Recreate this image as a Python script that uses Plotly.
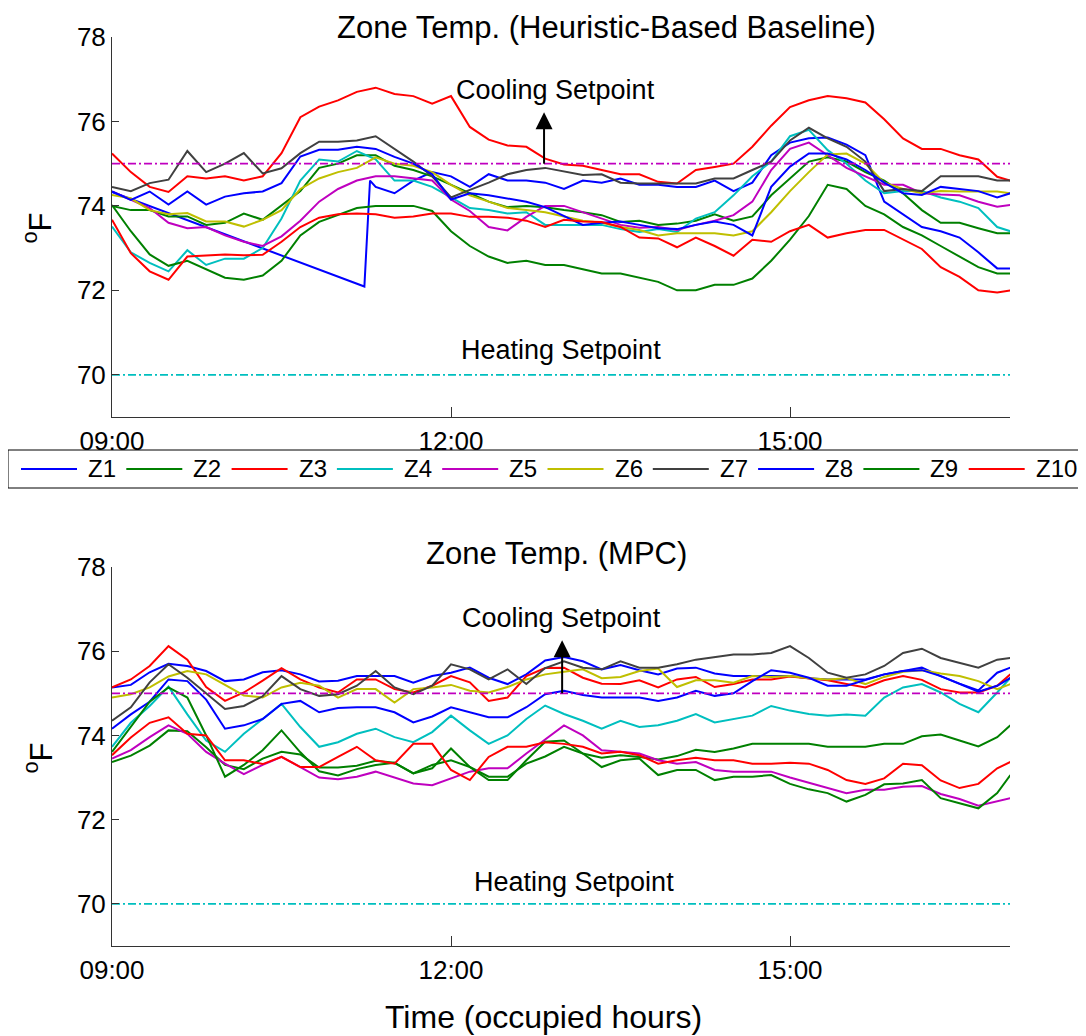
import plotly.graph_objects as go
from datetime import datetime, timedelta

# ---------------- data ----------------
BASE = datetime(2015, 7, 1, 9, 0)
END_MIN = 476.8
T_MIN = list(range(0, 471, 10)) + [477]                 # minutes after 09:00
T_Z1_TOP = [0, 134, 137] + list(range(140, 471, 10)) + [477]

ZONES = ["Z1", "Z2", "Z3", "Z4", "Z5", "Z6", "Z7", "Z8", "Z9", "Z10"]
COLORS = ["#0000FF", "#008000", "#FF0000", "#00BFBF", "#BF00BF",
          "#BFBF00", "#404040", "#0000FF", "#008000", "#FF0000"]

COOLING_SP = 75
HEATING_SP = 70

# Heuristic-based baseline (top)
TOP_Z1 = [74.33, 72.09, 74.6,
          74.45, 74.3, 74.6, 74.8, 74.7, 74.45, 74.75, 74.6, 74.6, 74.55,
          74.4, 74.6, 74.55, 74.65, 74.5, 74.5, 74.45, 74.45, 74.6, 74.35,
          74.55, 75.2, 75.5, 75.6, 75.62, 75.45, 75.2, 74.1, 73.8, 73.5,
          73.4, 73.25, 72.9, 72.52, 72.52]
TOP_Z2 = [74.0, 73.9, 73.9, 73.75, 73.75, 73.55, 73.6, 73.82, 73.67, 74.0,
          74.35, 74.9, 75.0, 75.2, 75.2, 74.95, 74.85, 74.7, 74.5, 74.3,
          74.1, 73.97, 74.0, 73.97, 73.9, 73.85, 73.78, 73.62, 73.65, 73.55,
          73.58, 73.65, 73.8, 73.65, 73.75, 74.25, 74.65, 75.05, 75.15, 75.05,
          74.8, 74.6, 74.3, 73.9, 73.6, 73.6, 73.47, 73.35, 73.35]
TOP_Z3 = [75.24, 74.8, 74.45, 74.33, 74.7, 74.65, 74.7, 74.6, 74.7, 75.25,
          76.1, 76.35, 76.5, 76.7, 76.8, 76.65, 76.6, 76.42, 76.6, 75.87,
          75.57, 75.43, 75.4, 75.12, 74.98, 74.95, 74.85, 74.75, 74.75, 74.57,
          74.53, 74.85, 74.92, 75.0, 75.4, 75.9, 76.34, 76.5, 76.6, 76.55,
          76.45, 76.05, 75.6, 75.35, 75.35, 75.2, 75.1, 74.69, 74.6]
TOP_Z4 = [73.51, 72.9, 72.65, 72.45, 72.95, 72.6, 72.75, 72.75, 73.0, 73.7,
          74.6, 75.1, 75.05, 75.3, 75.1, 74.6, 74.6, 74.45, 74.2, 73.95,
          73.9, 73.82, 73.85, 73.55, 73.55, 73.55, 73.55, 73.45, 73.38, 73.45,
          73.38, 73.7, 73.85, 74.25, 74.7, 75.05, 75.65, 75.8, 75.32, 75.0,
          74.6, 74.3, 74.35, 74.35, 74.2, 74.1, 73.95, 73.5, 73.4]
TOP_Z5 = [74.34, 74.15, 73.95, 73.6, 73.47, 73.5, 73.3, 73.15, 73.05, 73.28,
          73.65, 74.1, 74.4, 74.6, 74.7, 74.7, 74.65, 74.6, 74.15, 73.88,
          73.5, 73.42, 73.74, 74.0, 74.0, 73.85, 73.7, 73.55, 73.48, 73.5,
          73.43, 73.55, 73.65, 73.78, 74.1, 74.85, 75.35, 75.5, 75.2, 74.9,
          74.7, 74.5, 74.5, 74.3, 74.27, 74.25, 74.1, 73.98, 74.02]
TOP_Z6 = [74.26, 74.18, 73.9, 73.8, 73.83, 73.63, 73.63, 73.51, 73.67, 73.9,
          74.4, 74.65, 74.8, 74.9, 75.15, 75.0, 74.95, 74.8, 74.5, 74.25,
          74.1, 73.95, 73.9, 73.85, 73.75, 73.65, 73.6, 73.5, 73.43, 73.3,
          73.35, 73.35, 73.35, 73.3, 73.4, 73.85, 74.35, 74.8, 75.22, 75.24,
          75.0, 74.55, 74.4, 74.3, 74.35, 74.34, 74.34, 74.34, 74.3]
TOP_Z7 = [74.45, 74.35, 74.54, 74.62, 75.3, 74.8, 75.0, 75.25, 74.77, 74.89,
          75.25, 75.52, 75.52, 75.55, 75.65, 75.35, 75.05, 74.7, 74.2, 74.38,
          74.55, 74.75, 74.85, 74.9, 74.82, 74.73, 74.75, 74.55, 74.53, 74.53,
          74.53, 74.53, 74.65, 74.65, 74.85, 75.05, 75.55, 75.85, 75.6, 75.4,
          75.05, 74.35, 74.4, 74.35, 74.7, 74.7, 74.7, 74.6, 74.6]
TOP_Z8 = [74.34, 74.14, 74.34, 74.03, 74.34, 74.03, 74.22, 74.3, 74.34, 74.54,
          75.17, 75.33, 75.33, 75.4, 75.35, 75.16, 75.0, 74.75, 74.15, 74.3,
          74.25, 74.17, 74.1, 73.97, 73.75, 73.55, 73.6, 73.63, 73.55, 73.47,
          73.45, 73.55, 73.63, 73.55, 73.3, 74.45, 74.93, 75.24, 75.24, 75.1,
          74.85, 74.55, 74.3, 74.26, 74.45, 74.4, 74.35, 74.2, 74.3]
TOP_Z9 = [74.02, 73.4, 72.85, 72.58, 72.7, 72.5, 72.3, 72.25, 72.35, 72.7,
          73.3, 73.62, 73.78, 73.95, 74.0, 74.0, 74.0, 73.88, 73.4, 73.05,
          72.8, 72.65, 72.7, 72.6, 72.6, 72.5, 72.4, 72.4, 72.3, 72.2,
          72.0, 72.0, 72.13, 72.13, 72.28, 72.7, 73.2, 73.76, 74.5, 74.4,
          74.0, 73.8, 73.5, 73.3, 73.05, 72.8, 72.55, 72.4, 72.4]
TOP_Z10 = [73.67, 72.88, 72.45, 72.25, 72.8, 72.83, 72.85, 72.83, 72.84, 73.15,
           73.5, 73.72, 73.8, 73.82, 73.8, 73.72, 73.75, 73.82, 73.82, 73.74,
           73.74, 73.72, 73.65, 73.5, 73.67, 73.63, 73.62, 73.5, 73.25, 73.23,
           73.02, 73.25, 73.05, 72.82, 73.2, 73.15, 73.4, 73.55, 73.25, 73.35,
           73.43, 73.43, 73.2, 72.98, 72.55, 72.32, 72.0, 71.95, 72.0]

# MPC (bottom)
BOT_Z1 = [75.14, 75.2, 75.5, 75.7, 75.65, 75.53, 75.29, 75.33, 75.5, 75.55,
          75.45, 75.28, 75.3, 75.41, 75.41, 75.41, 75.25, 75.41, 75.49, 75.61,
          75.37, 75.22, 75.45, 75.78, 75.86, 75.76, 75.57, 75.67, 75.55, 75.45,
          75.59, 75.61, 75.47, 75.41, 75.41, 75.41, 75.41, 75.36, 75.33, 75.33,
          75.33, 75.45, 75.53, 75.61, 75.41, 75.23, 75.07, 75.49, 75.61]
BOT_Z2 = [73.37, 73.52, 73.76, 74.12, 74.1, 73.72, 73.3, 73.2, 73.45, 73.61,
          73.55, 73.24, 73.24, 73.28, 73.4, 73.35, 73.1, 73.3, 73.41, 73.25,
          73.02, 73.02, 73.33, 73.5, 73.73, 73.57, 73.47, 73.53, 73.49, 73.43,
          73.51, 73.66, 73.61, 73.69, 73.8, 73.8, 73.8, 73.8, 73.73, 73.73,
          73.73, 73.8, 73.8, 73.98, 74.02, 73.88, 73.74, 73.96, 74.24]
BOT_Z3 = [75.14, 75.33, 75.65, 76.12, 75.8, 75.15, 74.82, 75.02, 75.3, 75.6,
          75.33, 75.14, 75.02, 75.33, 75.33, 75.1, 75.02, 75.18, 75.41, 75.26,
          74.82, 74.9, 75.41, 75.6, 75.61, 75.37, 75.23, 75.22, 75.31, 75.14,
          75.33, 75.39, 75.15, 75.22, 75.33, 75.33, 75.4, 75.36, 75.31, 75.22,
          75.14, 75.31, 75.41, 75.32, 75.1, 75.02, 75.02, 75.18, 75.45]
BOT_Z4 = [73.73, 74.3, 74.7, 75.16, 74.5, 73.88, 73.61, 74.04, 74.39, 74.75,
          74.2, 73.73, 73.84, 74.04, 74.16, 73.96, 73.84, 74.08, 74.47, 74.12,
          73.8, 74.0, 74.39, 74.71, 74.51, 74.35, 74.16, 74.35, 74.2, 74.24,
          74.35, 74.51, 74.31, 74.39, 74.47, 74.7, 74.59, 74.51, 74.47, 74.5,
          74.47, 74.9, 75.14, 75.22, 75.02, 74.75, 74.55, 75.02, 75.37]
BOT_Z5 = [73.45, 73.65, 73.96, 74.24, 74.04, 73.61, 73.33, 73.08, 73.3, 73.49,
          73.25, 73.0, 72.96, 73.02, 73.14, 73.0, 72.86, 72.82, 72.98, 73.14,
          73.22, 73.22, 73.57, 73.9, 74.24, 74.0, 73.65, 73.61, 73.57, 73.41,
          73.33, 73.37, 73.18, 73.14, 73.14, 73.14, 73.0, 72.88, 72.75, 72.63,
          72.71, 72.71, 72.78, 72.8, 72.61, 72.49, 72.33, 72.43, 72.51]
BOT_Z6 = [74.9, 74.98, 75.14, 75.4, 75.53, 75.45, 75.2, 74.95, 74.9, 75.14,
          75.25, 75.18, 74.9, 75.1, 75.1, 74.78, 75.1, 75.14, 75.2, 75.06,
          75.02, 75.15, 75.33, 75.45, 75.51, 75.57, 75.36, 75.39, 75.53, 75.59,
          75.15, 75.31, 75.31, 75.25, 75.41, 75.39, 75.41, 75.36, 75.33, 75.36,
          75.22, 75.39, 75.51, 75.55, 75.47, 75.41, 75.29, 75.1, 75.22]
BOT_Z7 = [74.35, 74.67, 75.26, 75.69, 75.37, 75.0, 74.63, 74.7, 74.93, 75.41,
          75.1, 74.94, 74.98, 75.18, 75.53, 75.14, 74.98, 75.18, 75.69, 75.57,
          75.33, 75.57, 75.22, 75.6, 75.76, 75.61, 75.57, 75.76, 75.61, 75.61,
          75.69, 75.8, 75.86, 75.92, 75.92, 75.96, 76.12, 75.84, 75.49, 75.37,
          75.45, 75.65, 75.96, 76.06, 75.84, 75.73, 75.61, 75.8, 75.84]
BOT_Z8 = [74.16, 74.5, 74.8, 75.33, 75.29, 74.85, 74.16, 74.24, 74.39, 74.75,
          74.82, 74.55, 74.65, 74.67, 74.67, 74.55, 74.31, 74.45, 74.67, 74.55,
          74.43, 74.43, 74.67, 74.98, 75.06, 74.96, 74.9, 74.9, 74.9, 74.82,
          74.9, 75.06, 74.94, 75.0, 75.29, 75.55, 75.49, 75.37, 75.18, 75.18,
          75.31, 75.45, 75.53, 75.55, 75.41, 75.23, 75.04, 75.18, 75.37]
BOT_Z9 = [73.61, 74.2, 74.8, 75.14, 74.9, 74.0, 73.02, 73.3, 73.65, 74.12,
          73.6, 73.15, 73.05, 73.2, 73.3, 73.35, 73.1, 73.22, 73.69, 73.25,
          72.94, 72.94, 73.41, 73.85, 73.88, 73.57, 73.25, 73.41, 73.45, 73.06,
          73.18, 73.18, 72.94, 73.02, 73.02, 73.06, 72.85, 72.72, 72.63, 72.43,
          72.59, 72.84, 72.86, 72.94, 72.51, 72.39, 72.27, 72.63, 73.06]
BOT_Z10 = [73.53, 73.95, 74.3, 74.43, 74.04, 74.0, 73.41, 73.41, 73.32, 73.49,
           73.25, 73.25, 73.49, 73.73, 73.41, 73.33, 73.8, 73.8, 73.18, 72.94,
           73.49, 73.73, 73.73, 73.84, 73.8, 73.73, 73.57, 73.61, 73.53, 73.33,
           73.41, 73.47, 73.41, 73.41, 73.33, 73.33, 73.35, 73.33, 73.18, 72.94,
           72.85, 72.98, 73.33, 73.29, 72.93, 72.75, 72.85, 73.22, 73.37]

TOP = [TOP_Z1, TOP_Z2, TOP_Z3, TOP_Z4, TOP_Z5, TOP_Z6, TOP_Z7, TOP_Z8, TOP_Z9, TOP_Z10]
BOT = [BOT_Z1, BOT_Z2, BOT_Z3, BOT_Z4, BOT_Z5, BOT_Z6, BOT_Z7, BOT_Z8, BOT_Z9, BOT_Z10]

TICK_HOURS = [0, 3, 6]
TICK_TEXT = ["09:00", "12:00", "15:00"]

# arrow (cooling-setpoint indicator): minute offset and tip temperature per panel
ARROW_MIN = [229.4, 239.0]
ARROW_TIP = [76.22, 76.26]

# ---------------- figure ----------------
# the page body adds an 8 px margin, so all screen-pixel positions below are
# shifted by that offset.
OFF = 8
W, H = 1086 - OFF, 1036 - OFF
FONT = "Liberation Sans, Arial, Helvetica, sans-serif"


def tt(m):
    return BASE + timedelta(minutes=m)


def px_x(p):
    return (p - OFF) / W


def px_y(p):
    return 1 - (p - OFF) / H


t_all = [tt(m) for m in T_MIN]
t_z1 = [tt(m) for m in T_Z1_TOP]
t_end = tt(END_MIN)

fig = go.Figure()
for i, name in enumerate(ZONES):
    fig.add_trace(go.Scatter(x=t_z1 if i == 0 else t_all, y=TOP[i], mode="lines",
                             name=name, line=dict(color=COLORS[i], width=2),
                             xaxis="x", yaxis="y", showlegend=False))
    fig.add_trace(go.Scatter(x=t_all, y=BOT[i], mode="lines", name=name,
                             line=dict(color=COLORS[i], width=2),
                             xaxis="x2", yaxis="y2", showlegend=False))

for k, (xa, ya) in enumerate((("x", "y"), ("x2", "y2"))):
    fig.add_trace(go.Scatter(x=[BASE, t_end], y=[COOLING_SP, COOLING_SP], mode="lines",
                             line=dict(color="#BF00BF", width=1.8, dash="8px,3px,2px,3px"),
                             xaxis=xa, yaxis=ya, showlegend=False, name="Cooling Setpoint"))
    fig.add_trace(go.Scatter(x=[BASE, t_end], y=[HEATING_SP, HEATING_SP], mode="lines",
                             line=dict(color="#00BFBF", width=1.8, dash="8px,3px,2px,3px"),
                             xaxis=xa, yaxis=ya, showlegend=False, name="Heating Setpoint"))
    ta = tt(ARROW_MIN[k])
    fig.add_trace(go.Scatter(x=[ta, ta], y=[COOLING_SP, ARROW_TIP[k] - 0.3], mode="lines",
                             line=dict(color="black", width=2), xaxis=xa, yaxis=ya,
                             showlegend=False, hoverinfo="skip"))
    fig.add_trace(go.Scatter(x=[ta], y=[ARROW_TIP[k]], mode="markers",
                             marker=dict(symbol="arrow-up", size=17, color="black",
                                         line=dict(width=0)),
                             xaxis=xa, yaxis=ya, showlegend=False, hoverinfo="skip"))

XDOM = [px_x(112), px_x(1010)]
axis_common = dict(showline=True, linecolor="#333333", linewidth=1, showgrid=False,
                   zeroline=False, ticks="inside", tickcolor="#333333", tickwidth=1,
                   automargin=False,
                   tickfont=dict(family=FONT, size=26, color="black"))
xcommon = dict(axis_common, type="date", range=[BASE, t_end],
               tickvals=[tt(h * 60) for h in TICK_HOURS], ticktext=TICK_TEXT,
               ticklen=10, domain=XDOM, ticklabelstandoff=1)
ycommon = dict(axis_common, range=[69, 78], tickvals=[70, 72, 74, 76, 78], ticklen=7)

fig.update_layout(
    width=W, height=H, margin=dict(l=0, r=0, t=0, b=0, autoexpand=False),
    paper_bgcolor="white", plot_bgcolor="white", showlegend=False,
    font=dict(family=FONT, color="black"),
    xaxis=dict(xcommon, anchor="y"),
    yaxis=dict(ycommon, anchor="x", domain=[px_y(417), px_y(37)]),
    xaxis2=dict(xcommon, anchor="y2"),
    yaxis2=dict(ycommon, anchor="x2", domain=[px_y(946), px_y(567)]),
)

ann = []
C = dict(xanchor="center", yanchor="middle", showarrow=False)
# titles
ann.append(dict(C, text="Zone Temp. (Heuristic-Based Baseline)", xref="paper", yref="paper",
                x=px_x(606), y=px_y(27), font=dict(size=31)))
ann.append(dict(C, text="Zone Temp. (MPC)", xref="paper", yref="paper",
                x=px_x(556), y=px_y(553), font=dict(size=31)))
# axis labels
for ytop in (211, 741):
    ann.append(dict(text="<sup>o</sup>F", xref="paper", yref="paper", x=px_x(16), y=px_y(ytop),
                    xanchor="left", yanchor="top", showarrow=False, textangle=-90,
                    font=dict(size=31)))
ann.append(dict(C, text="Time (occupied hours)", xref="paper", yref="paper",
                x=px_x(543), y=px_y(1017), font=dict(size=32)))
# setpoint labels
for xa, ya, cx, cy, hx, hy in (("x", "y", 555, 76.75, 561, 70.59),
                               ("x2", "y2", 561, 76.79, 574, 70.52)):
    ann.append(dict(C, text="Cooling Setpoint", xref=xa, yref=ya,
                    x=tt((cx - 112) / 113 * 60), y=cy, font=dict(size=27)))
    ann.append(dict(C, text="Heating Setpoint", xref=xa, yref=ya,
                    x=tt((hx - 112) / 113 * 60), y=hy, font=dict(size=27)))

# legend (manual, boxed, one row)
shapes = [dict(type="rect", xref="paper", yref="paper", x0=px_x(8), x1=px_x(1084),
               y0=px_y(488), y1=px_y(450), line=dict(color="black", width=1),
               fillcolor="white", layer="below")]
for i, name in enumerate(ZONES):
    x0 = 21 + 105.3 * i
    shapes.append(dict(type="line", xref="paper", yref="paper", x0=px_x(x0), x1=px_x(x0 + 56),
                       y0=px_y(469), y1=px_y(469), line=dict(color=COLORS[i], width=2)))
    ann.append(dict(text=name, xref="paper", yref="paper", x=px_x(x0 + 65), y=px_y(469),
                    xanchor="left", yanchor="middle", showarrow=False, font=dict(size=24)))

fig.update_layout(annotations=ann, shapes=shapes)
fig.write_html("out.html")
